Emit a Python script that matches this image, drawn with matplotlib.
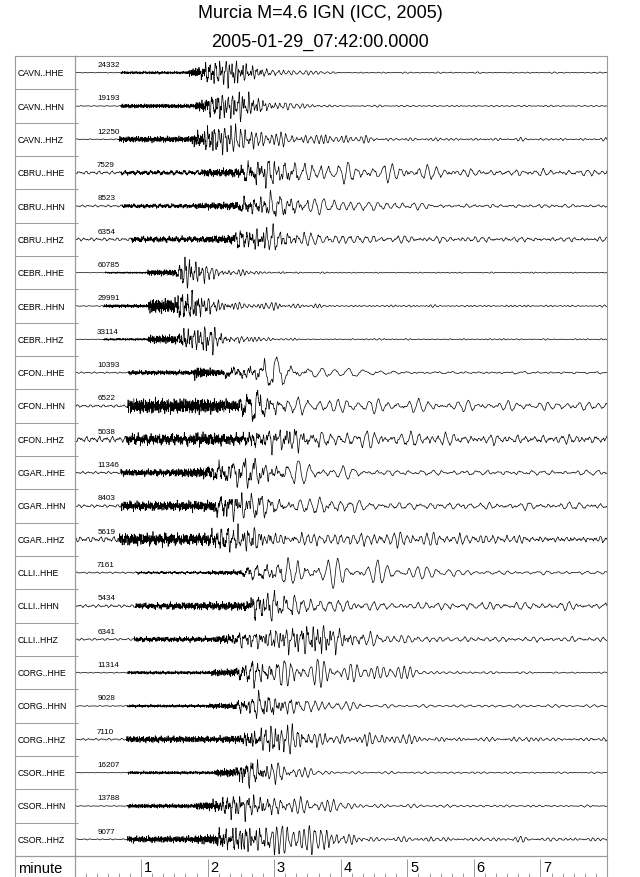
import numpy as np
import matplotlib
matplotlib.use("Agg")
import matplotlib.pyplot as plt

plt.rcParams['font.family'] = ['Liberation Sans', 'DejaVu Sans']

# ---- traces ----
stations = ["CAVN", "CBRU", "CEBR", "CFON", "CGAR", "CLLI", "CORG", "CSOR"]
components = ["HHE", "HHN", "HHZ"]
max_counts = [24332, 19193, 12250, 7529, 8523, 6354, 60785, 29991, 33114,
              10393, 6522, 5038, 11346, 8403, 5619, 7161, 5434, 6341,
              11314, 9028, 7110, 16207, 13788, 9077]

# envelope key times (minutes) and relative amplitudes per trace
t_p   = [.70, .70, .67, .70, .72, .85, .46, .44, .44, .81, .80, .78,
         .70, .70, .67, .93, .92, .90, .80, .80, .78, .80, .80, .80]
a_p   = [.08, .12, .16, .08, .12, .15, .05, .10, .07, .12, .38, .28,
         .15, .22, .35, .07, .13, .12, .08, .09, .18, .08, .11, .16]
t_p2  = [1.70, 1.80, 1.75, 1.90, 1.80, 1.90, 1.08, 1.10, 1.10, 1.78, 1.78, 1.78,
         1.50, 1.50, 1.50, 2.00, 1.35, 2.10, 2.05, 2.00, 2.00, 2.10, 1.80, 1.80]
a_p2  = [.22, .25, .28, .18, .18, .18, .18, .45, .28, .35, .42, .38,
         .18, .22, .30, .12, .15, .16, .18, .15, .15, .20, .18, .20]
a_s   = [.30, .30, .35, .20, .25, .25, .20, .45, .30, .15, .30, .25,
         .25, .25, .35, .15, .20, .20, .20, .20, .22, .25, .25, .25]
t_s   = [1.85, 1.90, 1.80, 2.45, 2.40, 2.35, 1.50, 1.45, 1.50, 2.20, 2.40, 2.50,
         1.95, 2.05, 2.00, 2.50, 2.55, 2.20, 2.40, 2.35, 2.45, 2.40, 2.05, 2.10]
s_amp = [.55, .55, .60, .50, .50, .50, .60, .60, .50, .40, .50, .40,
         .50, .50, .60, .50, .60, .30, .50, .50, .50, .60, .50, .50]
t_pk  = [2.40, 2.50, 2.20, 2.90, 2.85, 2.80, 1.65, 1.80, 2.00, 2.90, 2.75, 3.20,
         2.60, 2.45, 2.60, 3.00, 2.80, 3.70, 2.70, 2.90, 3.00, 2.55, 2.50, 2.50]
t_d   = [2.90, 2.95, 2.90, 3.40, 4.10, 3.50, 2.20, 2.20, 2.30, 3.30, 3.20, 3.60,
         3.20, 3.30, 3.00, 4.20, 3.80, 4.10, 4.00, 3.30, 3.55, 3.20, 3.40, 3.80]
a_d   = [.25, .30, .45, .60, .45, .45, .30, .35, .30, .45, .45, .50,
         .60, .45, .45, .80, .45, .50, .60, .60, .50, .50, .50, .70]
t_c   = [3.80, 3.60, 4.40, 5.50, 5.30, 5.00, 3.00, 3.50, 3.00, 4.50, 5.00, 5.50,
         4.00, 4.00, 5.00, 5.60, 4.40, 5.00, 4.95, 4.20, 4.95, 3.60, 4.00, 4.20]
a_c   = [.10, .12, .20, .35, .25, .25, .08, .15, .12, .20, .35, .35,
         .30, .60, .35, .40, .30, .25, .40, .25, .30, .20, .30, .25]
a_tail = [.04, .05, .08, .15, .10, .15, .04, .07, .05, .05, .25, .20,
          .12, .18, .28, .12, .20, .15, .06, .10, .12, .06, .08, .12]
a_n   = [.015, .015, .02, .06, .05, .07, .01, .015, .015, .03, .05, .12,
         .04, .05, .12, .04, .05, .04, .02, .02, .04, .01, .015, .02]
period = [5, 5, 4.5, 8, 8, 7, 4, 4, 4, 13, 9, 8,
          10, 9, 6, 9, 8, 7, 6, 7, 5, 6, 6, 5]
mix   = [.2, .2, .3, .5, .5, .4, .2, .2, .2, .7, .6, .5,
         .6, .5, .4, .7, .5, .4, .6, .5, .35, .45, .45, .35]

T_END = 8.0
fs = 8.0
t = np.arange(0, T_END * 60 + 1 / fs, 1 / fs)
tm = t / 60.0

W, H = 640, 878
fig = plt.figure(figsize=(W / 100, H / 100), dpi=100)

def fx(px):
    return px / W

def fy(px):
    return 1 - px / H

X0, X1 = 74.5, 607
XL = 15
Y0, Y1 = 57, 857
n = len(max_counts)
grey = "#9a9a9a"

ax = fig.add_axes([fx(X0), fy(Y1), fx(X1 - X0), (Y1 - Y0) / H])
lab = fig.add_axes([fx(XL), fy(Y1), fx(X0 - XL), (Y1 - Y0) / H])
tax = fig.add_axes([fx(X0), 0, fx(X1 - X0), (H - Y1) / H])
mlab = fig.add_axes([fx(XL), 0, fx(X0 - XL), (H - Y1) / H])

g = 0.6180339887
for i in range(n):
    ph = 2 * np.pi * g * (i + 1)
    hf = (np.sin(2 * np.pi * 1.13 * t + ph) + 0.8 * np.sin(2 * np.pi * 1.71 * t + 2.3 * ph)
          + 0.6 * np.sin(2 * np.pi * 0.77 * t + 3.1 * ph) + 0.5 * np.sin(2 * np.pi * 2.37 * t + 1.7 * ph)) / 2.9
    mid = (np.sin(2 * np.pi * 0.21 * t + ph) + 0.8 * np.sin(2 * np.pi * 0.33 * t + 1.9 * ph)
           + 0.6 * np.sin(2 * np.pi * 0.47 * t + 2.7 * ph) + 0.4 * np.sin(2 * np.pi * 0.71 * t + 0.6 * ph)) / 2.2
    f0 = 1.0 / period[i]
    surf = (np.sin(2 * np.pi * f0 * t + ph) + 0.5 * np.sin(2 * np.pi * f0 * 1.23 * t + 1.3 * ph)
            + 0.35 * np.sin(2 * np.pi * f0 * 0.81 * t + 2.1 * ph)) / 1.6
    surf *= 0.75 + 0.25 * np.sin(2 * np.pi * t / 37.0 + 0.7 * ph)
    noise = (np.sin(2 * np.pi * 0.17 * t + ph) + 0.7 * np.sin(2 * np.pi * 0.26 * t + 1.4 * ph)
             + 0.4 * np.sin(2 * np.pi * 0.61 * t + 2.2 * ph)) / 1.6

    hf_env = np.interp(tm,
                       [t_p[i] - 0.005, t_p[i], t_p2[i], t_p2[i] + 0.02, t_s[i], t_s[i] + 0.6],
                       [0, a_p[i], a_p[i], a_p2[i], a_s[i], 0], left=0, right=0)
    lf_env = np.interp(tm,
                       [t_s[i], t_s[i] + 0.08, t_pk[i], t_d[i], t_c[i], t_c[i] + 0.4, T_END],
                       [0, s_amp[i], 1.0, a_d[i], a_c[i], a_tail[i], 0.8 * a_tail[i]],
                       left=0)
    w = np.clip((tm - t_pk[i]) / 0.8, 0, 1)
    m = mix[i] + (1 - mix[i]) * w * 0.7
    car = m * surf + (1 - m) * mid

    sig = a_n[i] * noise + hf_env * hf + lf_env * car
    sig = sig / np.abs(sig).max()
    ax.plot(tm, i + 0.5 - 0.47 * sig, color="black", lw=0.5)
    ax.text(0.34, i + 0.26, str(max_counts[i]), fontsize=5.8, ha="left", va="center")

    st = stations[i // 3] + ".." + components[i % 3]
    lab.text(3 / (X0 - XL), i + 0.5, st, fontsize=6.2, ha="left", va="center",
             transform=lab.get_yaxis_transform())
    lab.axhline(i + 1, color=grey, lw=0.7)

for a in (ax, lab):
    a.set_ylim(n, 0)
for a in (ax, tax):
    a.set_xlim(0, T_END)
lab.set_xlim(0, 1)

ax.set_xticks([])
ax.set_yticks(np.arange(n + 1))
ax.tick_params(axis="y", direction="in", length=2, color=grey, labelleft=False)
lab.set_xticks([])
lab.set_yticks([])
for a in (ax, lab, tax, mlab):
    for sp in a.spines.values():
        sp.set_color(grey)
        sp.set_linewidth(0.8)
    a.patch.set_alpha(0)
for a in (tax, mlab):
    a.spines["bottom"].set_visible(False)
    a.set_xticks([])
    a.set_yticks([])
tax.set_ylim(0, 1)

# time axis (minutes)
major = np.arange(1, 8)
minor = np.arange(0, T_END, 1 / 6)
tax.vlines(minor, 0, 0.2, color=grey, lw=0.7)
tax.vlines(major, 0, 0.88, color=grey, lw=0.7)
for k in major:
    tax.text(k + 0.04, 0.48, str(k), fontsize=10.5, ha="left", va="center")
mlab.text(0.05, 0.45, "minute", fontsize=10.5, ha="left", va="center", transform=mlab.transAxes)

fig.text(0.5, fy(13), "Murcia M=4.6 IGN (ICC, 2005)", fontsize=13, ha="center", va="center")
fig.text(0.5, fy(42), "2005-01-29_07:42:00.0000", fontsize=13, ha="center", va="center")

fig.savefig("out.png", dpi=100)
